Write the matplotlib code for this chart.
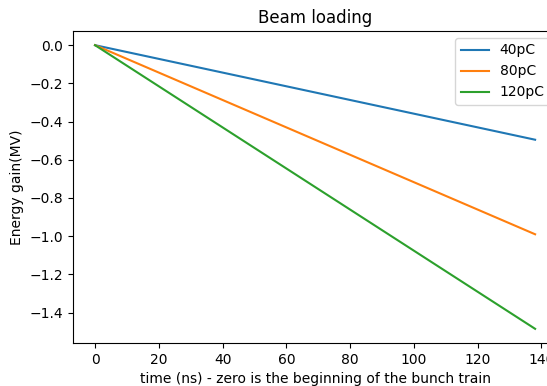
import matplotlib
matplotlib.use("Agg")
import matplotlib.pyplot as plt

time_ns = [0, 138]
gain_40pC = [0.0, -0.495]
gain_80pC = [0.0, -0.99]
gain_120pC = [0.0, -1.485]

fig = plt.figure(figsize=(5.47, 3.86), dpi=100)
ax = fig.add_axes([0.1335, 0.1114, 0.885, 0.8083])

ax.plot(time_ns, gain_40pC, label="40pC")
ax.plot(time_ns, gain_80pC, label="80pC")
ax.plot(time_ns, gain_120pC, label="120pC")

ax.set_title("Beam loading")
ax.set_xlabel("time (ns) - zero is the beginning of the bunch train")
ax.set_ylabel("Energy gain(MV)")
ax.legend(loc="upper right")

fig.savefig("out.png", dpi=100)
